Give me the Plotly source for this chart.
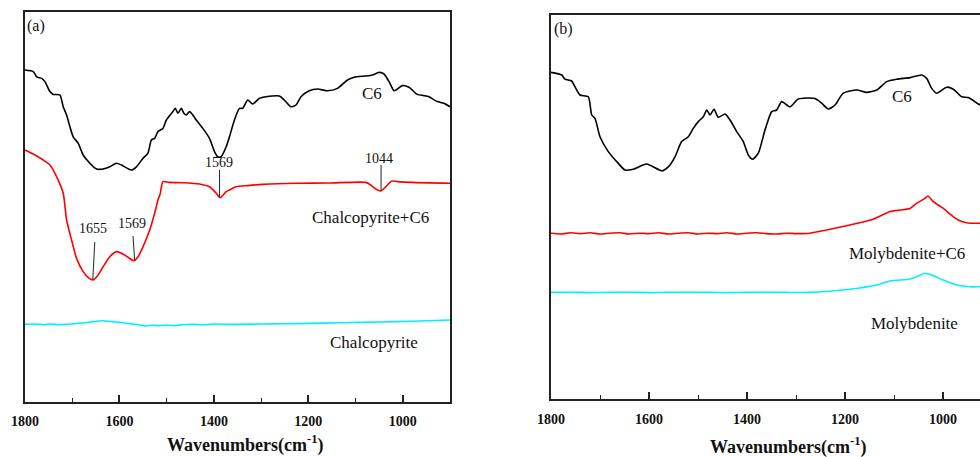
import plotly.graph_objects as go

W, H = 980, 457

# ---------------- Panel (a) data ----------------
a_c6_wn = [1800, 1782.5, 1775.3, 1764.7, 1757.8, 1747.2, 1740.2, 1726.1, 1719.1, 1711.9, 1704.9, 1698.0,
           1687.4, 1676.9, 1662.7, 1648.6, 1634.6, 1620.5, 1606.3, 1595.8, 1574.6, 1564.1, 1550.2, 1539.6,
           1532.4, 1525.4, 1518.5, 1507.9, 1500.7, 1486.8, 1481.7, 1476.2, 1469.0, 1463.6, 1458.5, 1451.5,
           1444.5, 1437.4, 1423.4, 1409.3, 1398.7, 1391.8, 1384.6, 1374.0, 1367.0, 1356.5, 1345.9, 1338.9,
           1328.4, 1317.8, 1303.7, 1289.5, 1261.4, 1250.9, 1236.7, 1226.2, 1215.6, 1198.1, 1180.5, 1159.4,
           1138.3, 1117.2, 1103.0, 1078.3, 1064.4, 1050.2, 1039.7, 1029.1, 1018.6, 1011.6, 1001.0, 986.9,
           969.3, 955.2, 944.6, 927.1, 912.9, 900]
a_c6_t = [82.5, 82.1, 80.8, 80.4, 79.6, 77.1, 76.4, 76.25, 73.3, 71.25, 68.3, 65.8,
          64.2, 61.25, 59.2, 57.75, 57.75, 58.3, 59.2, 58.75, 57.5, 58.3, 60.4, 61.7,
          65.0, 65.4, 67.1, 67.9, 70.0, 72.1, 72.9, 71.7, 72.9, 71.7, 71.25, 72.1,
          71.25, 70.0, 67.9, 65.4, 62.1, 60.8, 60.8, 63.3, 65.8, 70.0, 72.9, 72.9,
          75.0, 74.0, 75.4, 75.8, 76.0, 75.0, 73.3, 73.75, 75.8, 77.3, 77.75, 77.3,
          77.9, 80.0, 80.7, 81.0, 81.25, 81.9, 81.5, 79.6, 77.3, 77.7, 78.6, 78.2,
          76.4, 76.1, 75.8, 74.6, 74.2, 73.3]

a_mix_wn = [1800, 1782.5, 1761.4, 1747.2, 1733.0, 1719.1, 1711.9, 1701.4, 1690.8, 1676.9, 1664.2, 1655.7,
            1645.2, 1634.6, 1620.5, 1606.3, 1595.8, 1581.8, 1569.2, 1560.7, 1550.2, 1536.0, 1525.4, 1518.5,
            1513.8, 1507.9, 1493.9, 1465.7, 1430.4, 1409.3, 1395.1, 1386.7, 1374.0, 1367.0, 1352.9, 1328.4,
            1296.7, 1226.2, 1155.8, 1078.3, 1067.8, 1057.2, 1046.6, 1036.1, 1023.4, 1011.6, 979.9, 900]
a_mix_t = [62.5, 61.5, 60.0, 58.75, 55.8, 51.7, 45.0, 40.0, 35.4, 32.1, 30.4, 30.0,
           31.25, 33.3, 35.8, 37.1, 36.7, 35.7, 34.8, 35.8, 38.3, 42.5, 46.7, 50.0,
           51.5, 54.6, 54.4, 54.3, 54.0, 53.3, 51.7, 50.6, 52.1, 52.5, 53.3, 53.6,
           53.9, 54.2, 54.25, 54.4, 53.75, 52.75, 52.25, 53.3, 54.75, 54.6, 54.4, 54.2]

a_min_wn = [1800, 1780, 1760, 1747, 1730, 1712, 1695, 1675, 1656, 1635, 1615, 1599, 1585, 1571, 1555,
            1543, 1530, 1515, 1500, 1485, 1466, 1445, 1420, 1395, 1367, 1300, 1250, 1200, 1135, 1050, 980, 900]
a_min_t = [18.9, 19.0, 18.8, 19.0, 18.8, 18.9, 19.1, 19.3, 19.6, 19.8, 19.6, 19.4, 19.2, 19.0, 18.7,
           18.5, 18.7, 18.6, 18.75, 18.6, 18.8, 18.9, 18.8, 19.0, 18.9, 19.0, 19.05, 19.15, 19.3, 19.5, 19.7, 20.0]

# peak markers in panel (a): label, label position, line start, line end
a_peaks = [
    ("1569", 1388.3, 59.4, 1388.0, 57.5, 1388.0, 50.8),
    ("1044", 1050.2, 60.4, 1046.0, 58.75, 1046.0, 52.4),
    ("1655", 1655.7, 42.9, 1652.2, 39.5, 1656.4, 30.1),
    ("1569", 1572.5, 44.1, 1571.3, 41.0, 1567.8, 35.0),
]
a_labels = [("C6", 1065, 76.75), ("Chalcopyrite+C6", 1067.8, 45.6), ("Chalcopyrite", 1060.8, 14.5)]

# ---------------- Panel (b) data ----------------
b_c6_wn = [1800, 1778.2, 1771.4, 1757.8, 1751.0, 1740.8, 1723.9, 1716.9, 1710.2, 1700.0, 1683.1, 1665.9,
           1649.0, 1632.0, 1604.7, 1574.1, 1560.6, 1546.9, 1533.3, 1519.8, 1509.6, 1499.4, 1489.2, 1482.2,
           1475.5, 1467.3, 1458.6, 1444.9, 1434.7, 1421.0, 1407.6, 1397.3, 1388.4, 1376.9, 1363.3, 1349.6,
           1339.4, 1329.2, 1312.2, 1295.3, 1261.2, 1247.6, 1234.1, 1220.4, 1203.5, 1176.1, 1155.7, 1135.3,
           1114.9, 1094.5, 1067.3, 1043.5, 1033.3, 1023.1, 1012.9, 992.4, 978.9, 961.8, 948.3, 924.5, 905]
b_c6_t = [81.9, 81.25, 80.2, 79.75, 78.3, 76.25, 75.8, 71.25, 70.4, 65.8, 62.1, 59.6,
          57.5, 57.7, 59.0, 57.3, 58.3, 60.8, 64.6, 65.8, 67.9, 69.6, 70.8, 72.5,
          71.25, 72.7, 70.7, 71.5, 70.0, 67.1, 64.6, 61.25, 60.2, 61.7, 67.5, 72.1,
          72.5, 74.6, 73.3, 75.25, 75.4, 74.2, 72.75, 73.75, 76.7, 77.5, 76.9, 77.5,
          79.6, 80.2, 80.6, 81.25, 80.4, 77.9, 76.7, 78.2, 77.7, 75.8, 75.6, 73.75, 72.8]

b_mix_wn = [1800, 1780, 1760, 1740, 1720, 1700, 1680, 1660, 1640, 1620, 1600, 1580, 1560, 1540, 1520,
            1500, 1480, 1460, 1440, 1420, 1400, 1380, 1360, 1340, 1320, 1300, 1271.4, 1237.4, 1189.8,
            1142.3, 1108.2, 1087.8, 1067.3, 1053.7, 1036.7, 1030.6, 1019.8, 999.4, 978.9, 961.8, 944.9, 924.5, 905]
b_mix_t = [41.7, 41.5, 41.8, 41.6, 41.8, 41.5, 41.7, 41.8, 41.5, 41.7, 41.6, 41.8, 41.5, 41.7, 41.8,
           41.5, 41.7, 41.6, 41.8, 41.5, 41.7, 41.8, 41.6, 41.5, 41.7, 41.6, 41.7, 42.5, 43.75,
           45.2, 47.1, 47.5, 47.9, 49.2, 50.4, 51.0, 49.6, 47.9, 45.8, 44.6, 44.2, 44.2, 44.2]

b_min_wn = [1800, 1760, 1720, 1680, 1640, 1600, 1560, 1520, 1480, 1440, 1400, 1360, 1320, 1271.4,
            1189.8, 1135.3, 1108.2, 1067.3, 1053.7, 1036.7, 1023.1, 999.4, 972.0, 944.9, 924.5, 905]
b_min_t = [26.9, 26.95, 26.85, 26.9, 26.95, 26.85, 26.9, 26.95, 26.9, 26.85, 26.9, 26.95, 26.9, 26.9,
           27.7, 28.75, 29.75, 30.25, 30.8, 31.7, 31.25, 30.0, 28.75, 28.3, 28.3, 28.3]

b_labels = [("C6", 1084.3, 75.8), ("Molybdenite+C6", 1074.1, 36.7), ("Molybdenite", 1058.6, 19.2)]

x_ticks = [1800, 1600, 1400, 1200, 1000]

# ---------------- Figure ----------------
FONT = "Liberation Serif, Times New Roman, serif"
BLACK, RED, CYAN = "#000000", "#ff0000", "#00f0ff"

fig = go.Figure()

def add_line(x, y, color, xa, ya, shape="spline"):
    fig.add_trace(go.Scatter(x=x, y=y, mode="lines", xaxis=xa, yaxis=ya,
                             line=dict(color=color, width=1.6, shape=shape, smoothing=0.6),
                             showlegend=False, hoverinfo="skip"))

add_line(a_c6_wn, a_c6_t, BLACK, "x", "y")
add_line(a_mix_wn, a_mix_t, RED, "x", "y")
add_line(a_min_wn, a_min_t, CYAN, "x", "y")
add_line(b_c6_wn, b_c6_t, BLACK, "x2", "y2")
add_line(b_mix_wn, b_mix_t, RED, "x2", "y2")
add_line(b_min_wn, b_min_t, CYAN, "x2", "y2")

# peak marker lines
for lab, tx, ty, x0, y0, x1, y1 in a_peaks:
    fig.add_trace(go.Scatter(x=[x0, x1], y=[y0, y1], mode="lines", xaxis="x", yaxis="y",
                             line=dict(color="#222", width=1), showlegend=False, hoverinfo="skip"))

annotations = []
for lab, tx, ty, *_ in a_peaks:
    annotations.append(dict(text=lab, x=tx, y=ty, xref="x", yref="y", showarrow=False,
                            xanchor="center", yanchor="middle",
                            font=dict(family=FONT, size=14, color="#111")))
for lab, tx, ty in a_labels:
    annotations.append(dict(text=lab, x=tx, y=ty, xref="x", yref="y", showarrow=False,
                            xanchor="center", yanchor="middle",
                            font=dict(family=FONT, size=17, color="#111")))
for lab, tx, ty in b_labels:
    annotations.append(dict(text=lab, x=tx, y=ty, xref="x2", yref="y2", showarrow=False,
                            xanchor="center", yanchor="middle",
                            font=dict(family=FONT, size=17, color="#111")))

annotations.append(dict(text="(a)", x=25 / W, y=1 - 26 / H, xref="paper", yref="paper",
                        xanchor="left", yanchor="middle", showarrow=False,
                        font=dict(family=FONT, size=16, color="#111")))
annotations.append(dict(text="(b)", x=552 / W, y=1 - 29 / H, xref="paper", yref="paper",
                        xanchor="left", yanchor="middle", showarrow=False,
                        font=dict(family=FONT, size=16, color="#111")))
for cx, cy in [(245, 444), (788, 446)]:
    annotations.append(dict(text="<b>Wavenumbers(cm<sup>-1</sup>)</b>", x=cx / W, y=1 - cy / H,
                            xref="paper", yref="paper", showarrow=False,
                            xanchor="center", yanchor="middle",
                            font=dict(family=FONT, size=18, color="#111")))

xcommon = dict(tickmode="array", tickvals=x_ticks, ticktext=[str(v) for v in x_ticks],
               ticks="inside", ticklen=7, tickwidth=1.5, tickcolor="#222",
               minor=dict(ticks="inside", ticklen=4, tickwidth=1.2, tickcolor="#222", dtick=100,
                          tick0=1800),
               showline=True, linecolor="#222", linewidth=1.6, mirror=True, automargin=False,
               showgrid=False, zeroline=False, ticklabelstandoff=6,
               tickfont=dict(family=FONT, size=14, color="#111", weight="bold"))
ycommon = dict(showticklabels=False, ticks="", showgrid=False, zeroline=False, automargin=False,
               showline=True, linecolor="#222", linewidth=1.6)

fig.update_layout(
    template="none",
    width=W, height=H, margin=dict(l=0, r=0, t=0, b=0, pad=0, autoexpand=False),
    paper_bgcolor="white", plot_bgcolor="white",
    xaxis=dict(domain=[25 / W, 450 / W], range=[1800, 900], anchor="y", **xcommon),
    yaxis=dict(domain=[1 - 401.7 / H, 1 - 12 / H], range=[-0.425, 97.0], anchor="x", mirror=True, **ycommon),
    xaxis2=dict(domain=[551 / W, 1.0], range=[1800, 924.5], anchor="y2", **xcommon),
    yaxis2=dict(domain=[1 - 399 / H, 1 - 15 / H], range=[0.25, 96.25], anchor="x2", mirror=False, **ycommon),
    annotations=annotations,
)

fig.write_html("out.html")
